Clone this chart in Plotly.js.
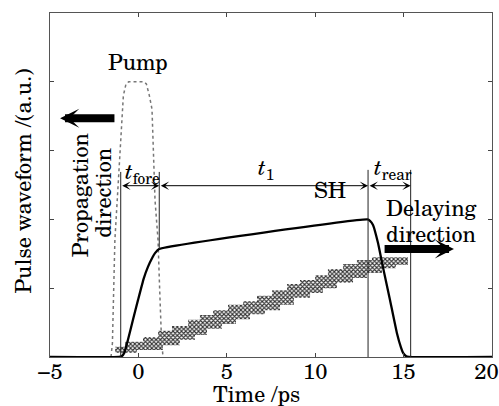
<!DOCTYPE html>
<html>
<head>
<meta charset="utf-8">
<script src="https://cdn.plot.ly/plotly-3.0.1.min.js"></script>
<style>html,body{margin:0;padding:0;background:#fff}#chart{width:499px;height:406px}</style>
</head>
<body>
<div id="chart"></div>
<script>
// ---- data ----
const tickVals = [-5, 0, 5, 10, 15, 20];
const tickText = ['\u22125', '0', '5', '10', '15', '20'];

// SH pulse (solid)
const shT = [-5, -1.1, -0.95, -0.8, -0.59, -0.3, -0.02, 0.3, 0.54, 0.8, 0.94, 1.17, 12.95, 13.1, 13.27, 13.55, 13.83, 14.23, 14.62, 14.85, 14.97, 15.15, 15.3, 20];
const shY = [0, 0, 0.01, 0.06, 0.25, 0.55, 0.83, 1.14, 1.31, 1.45, 1.51, 1.57, 2.0, 1.98, 1.92, 1.66, 1.31, 0.83, 0.35, 0.14, 0.06, 0.01, 0, 0];

// Pump pulse (dotted)
const pumpT = [-1.55, -1.47, -1.33, -1.2, -1.08, -0.95, -0.85, -0.7, -0.55, 0.3, 0.45, 0.62, 0.77, 0.94, 1.11, 1.2, 1.3, 1.39];
const pumpY = [0, 0.2, 1.7, 2.3, 2.8, 3.5, 3.8, 3.97, 4.0, 4.0, 3.97, 3.8, 3.6, 2.28, 1.7, 1.0, 0.3, 0];

// hatched staircase band blocks
const bandX0 = [-1.32, -0.76, 0.26, 1.11, 1.90, 2.81, 3.48, 4.22, 5.07, 5.92, 6.71, 7.56, 8.41, 9.14, 9.99, 10.72, 11.57, 12.36, 13.21];
const bandX1 = [-0.08, 1.39, 2.35, 3.20, 3.88, 4.73, 5.52, 6.31, 7.16, 8.01, 8.80, 9.71, 10.44, 11.23, 12.14, 12.93, 13.78, 14.57, 15.25];
const bandY0 = [0.06, 0.10, 0.17, 0.25, 0.32, 0.41, 0.48, 0.55, 0.62, 0.68, 0.76, 0.86, 0.93, 1.00, 1.08, 1.15, 1.22, 1.29, 1.34];
const bandY1 = [0.15, 0.22, 0.29, 0.38, 0.45, 0.54, 0.61, 0.68, 0.76, 0.81, 0.89, 0.97, 1.06, 1.12, 1.19, 1.28, 1.35, 1.41, 1.45];

// interval markers
const markerTimes = [-1.0, 1.18, 12.99, 15.4];
const markerTop = [2.69, 2.69, 2.72, 2.72];
const markerBottom = [0, 1.57, 0, 0];
const intervalY = 2.49;

// ---- build ----
const FONT = '"TeX Gyre Schola", "DejaVu Serif", serif';
const FS = 22;
const bx = [], by = [];
for (let i = 0; i < bandX0.length; i++) {
  bx.push(bandX0[i], bandX1[i], bandX1[i], bandX0[i], bandX0[i], null);
  by.push(bandY0[i], bandY0[i], bandY1[i], bandY1[i], bandY0[i], null);
}

const traces = [
  {x: bx, y: by, mode: 'lines', fill: 'toself', line: {width: 0, color: 'rgba(0,0,0,0)'},
   fillcolor: 'rgba(255,255,255,0)',
   fillpattern: {shape: 'x', size: 3, solidity: 0.6, fgcolor: '#333', bgcolor: 'rgba(0,0,0,0)'},
   hoverinfo: 'skip', showlegend: false},
  {x: pumpT, y: pumpY, mode: 'lines', line: {color: '#777', width: 1.5, dash: 'dot'}, showlegend: false},
  {x: shT, y: shY, mode: 'lines', line: {color: '#000', width: 2.3, shape: 'spline', smoothing: 0.4}, showlegend: false}
];

const shapes = markerTimes.map((t, i) => ({
  type: 'line', xref: 'x', yref: 'y', x0: t, x1: t, y0: markerBottom[i], y1: markerTop[i],
  line: {color: '#222', width: 1}
}));

const annotations = [];
// interval double arrows
for (let i = 0; i < markerTimes.length - 1; i++) {
  annotations.push({x: markerTimes[i + 1], y: intervalY, ax: markerTimes[i], ay: intervalY,
    xref: 'x', yref: 'y', axref: 'x', ayref: 'y', text: '', showarrow: true,
    arrowside: 'end+start', arrowhead: 3, startarrowhead: 3, arrowsize: 1.4, startarrowsize: 1.4,
    arrowwidth: 1, arrowcolor: '#000', standoff: 0, startstandoff: 0});
}
// big arrows
annotations.push({x: -4.43, y: 3.47, ax: -1.27, ay: 3.47, xref: 'x', yref: 'y', axref: 'x', ayref: 'y',
  text: '', showarrow: true, arrowhead: 3, arrowsize: 0.4, arrowwidth: 8, arrowcolor: '#000'});
annotations.push({x: 17.85, y: 1.57, ax: 13.84, ay: 1.57, xref: 'x', yref: 'y', axref: 'x', ayref: 'y',
  text: '', showarrow: true, arrowhead: 3, arrowsize: 0.4, arrowwidth: 8, arrowcolor: '#000'});

const txt = (text, x, y, extra) => Object.assign({x, y, xref: 'x', yref: 'y', text, showarrow: false,
  font: {family: FONT, size: FS, color: '#000'}}, extra || {});
annotations.push(txt('Pump', 0, 4.3));
annotations.push(txt('SH', 10.84, 2.44));
annotations.push(txt('Delaying', 16.6, 2.18));
annotations.push(txt('direction', 16.6, 1.80));
annotations.push(txt('Propagation', -3.36, 2.35, {textangle: -90}));
annotations.push(txt('direction', -2.1, 2.39, {textangle: -90}));
annotations.push(txt('<i>t</i><sub>fore</sub>', -0.85, 2.7, {xanchor: 'left'}));
annotations.push(txt('<i>t</i><sub>1</sub>', 7.2, 2.76));
annotations.push(txt('<i>t</i><sub>rear</sub>', 13.2, 2.76, {xanchor: 'left'}));
// axis titles
annotations.push({xref: 'paper', yref: 'paper', x: 0.467, y: -0.104, xanchor: 'center', yanchor: 'middle',
  text: 'Time /ps', showarrow: false, font: {family: FONT, size: FS, color: '#000'}});
annotations.push({xref: 'paper', yref: 'paper', x: -0.0633, y: 0.51, xanchor: 'center', yanchor: 'middle',
  text: 'Pulse waveform /(a.u.)', textangle: -90, showarrow: false, font: {family: FONT, size: FS, color: '#000'}});

const layout = {
  width: 499, height: 406,
  margin: {l: 50, r: 7, t: 13, b: 49},
  paper_bgcolor: '#fff', plot_bgcolor: '#fff',
  font: {family: FONT, size: FS, color: '#000'},
  xaxis: {range: [-5, 20], tickvals: tickVals, ticktext: tickText.map((t, i) => i === tickText.length - 1 ? t + '\u2002' : t),
    ticks: 'inside', ticklen: 4, tickcolor: '#444', ticklabeloverflow: 'allow', ticklabelstandoff: -5,
    showline: true, linecolor: '#555', linewidth: 1, mirror: 'ticks', showgrid: false, zeroline: false,
    tickfont: {family: FONT, size: FS, color: '#000'}},
  yaxis: {range: [0, 5], tickvals: [0, 1, 2, 3, 4, 5], showticklabels: false, ticks: 'inside', ticklen: 4, tickcolor: '#444',
    showline: true, linecolor: '#555', linewidth: 1, mirror: 'ticks', showgrid: false, zeroline: false},
  shapes, annotations, showlegend: false
};

Plotly.newPlot('chart', traces, layout, {staticPlot: true, displayModeBar: false});
</script>
</body>
</html>
